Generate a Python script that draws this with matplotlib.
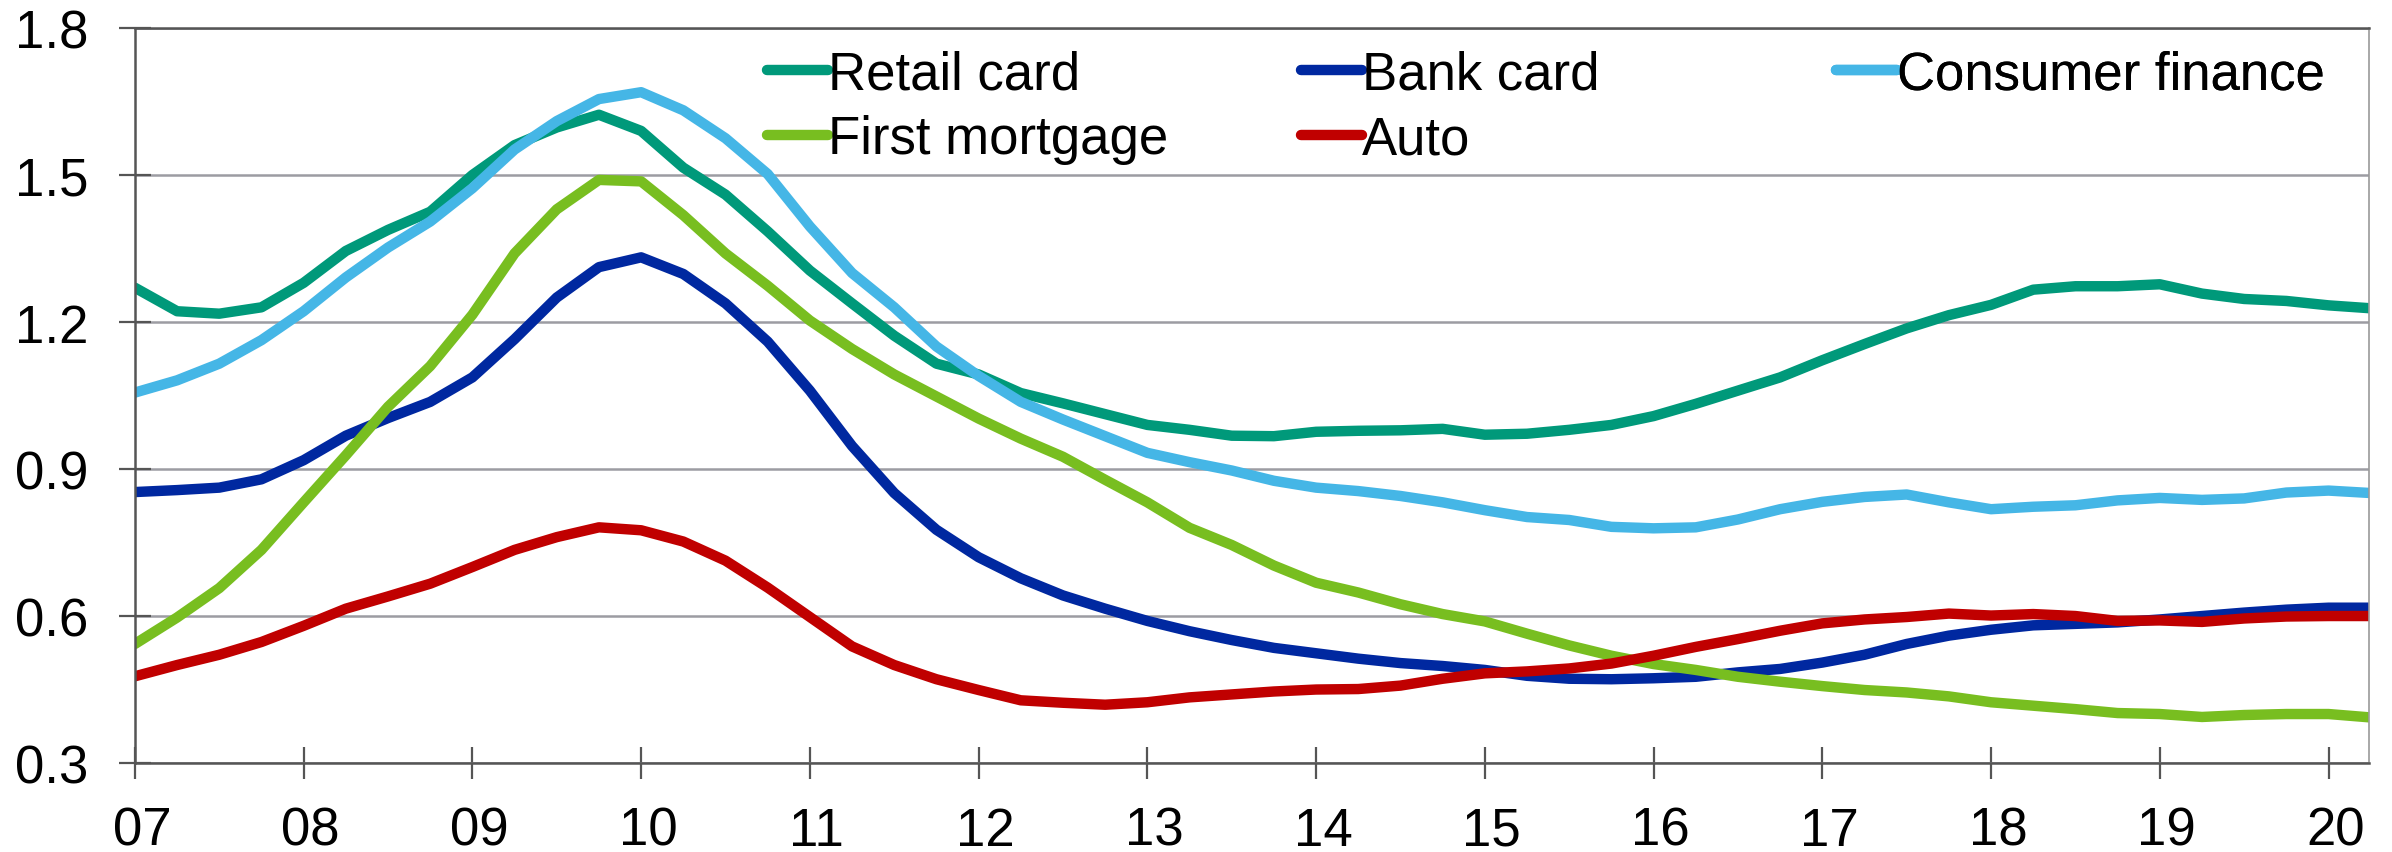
import numpy as np
import matplotlib
matplotlib.use('Agg')
import matplotlib.pyplot as plt
import matplotlib.transforms as mtransforms

plt.rcParams['font.family'] = ['Liberation Sans', 'DejaVu Sans']

# quarterly points, 2007Q1 .. 2020Q2 (x in years since 2000)
years = np.arange(54) * 0.25 + 7.0

retail_card = [1.270, 1.222, 1.217, 1.230, 1.280, 1.345, 1.388, 1.425, 1.500, 1.561,
               1.597, 1.623, 1.590, 1.515, 1.460, 1.385, 1.305, 1.238, 1.172, 1.115,
               1.093, 1.055, 1.034, 1.012, 0.990, 0.980, 0.968, 0.967, 0.976, 0.978,
               0.979, 0.982, 0.970, 0.972, 0.980, 0.990, 1.008, 1.033, 1.060, 1.087,
               1.122, 1.155, 1.187, 1.214, 1.235, 1.266, 1.273, 1.273, 1.277, 1.258,
               1.247, 1.243, 1.234, 1.228]
bank_card = [0.853, 0.857, 0.862, 0.879, 0.918, 0.968, 1.004, 1.037, 1.087, 1.165,
             1.250, 1.312, 1.332, 1.298, 1.238, 1.160, 1.060, 0.947, 0.851, 0.776,
             0.720, 0.677, 0.642, 0.615, 0.590, 0.569, 0.551, 0.535, 0.524, 0.513,
             0.504, 0.498, 0.490, 0.478, 0.472, 0.471, 0.473, 0.476, 0.485, 0.492,
             0.505, 0.521, 0.543, 0.560, 0.572, 0.581, 0.584, 0.587, 0.593, 0.600,
             0.607, 0.613, 0.617, 0.617]
consumer_finance = [1.056, 1.081, 1.115, 1.163, 1.222, 1.291, 1.352, 1.405, 1.473, 1.552,
                    1.610, 1.655, 1.669, 1.632, 1.575, 1.502, 1.395, 1.300, 1.230, 1.150,
                    1.090, 1.037, 1.001, 0.967, 0.933, 0.914, 0.897, 0.876, 0.862, 0.855,
                    0.845, 0.832, 0.816, 0.802, 0.796, 0.782, 0.779, 0.781, 0.797, 0.818,
                    0.833, 0.843, 0.848, 0.832, 0.818, 0.823, 0.826, 0.836, 0.841, 0.837,
                    0.840, 0.852, 0.856, 0.851]
first_mortgage = [0.543, 0.597, 0.657, 0.735, 0.832, 0.928, 1.027, 1.110, 1.215, 1.340,
                  1.430, 1.490, 1.487, 1.418, 1.340, 1.274, 1.203, 1.145, 1.093, 1.048,
                  1.003, 0.962, 0.925, 0.878, 0.832, 0.780, 0.745, 0.703, 0.668, 0.648,
                  0.624, 0.604, 0.589, 0.564, 0.540, 0.519, 0.502, 0.490, 0.476, 0.466,
                  0.457, 0.449, 0.444, 0.436, 0.424, 0.417, 0.410, 0.402, 0.400, 0.394,
                  0.398, 0.400, 0.400, 0.393]
auto = [0.477, 0.500, 0.521, 0.547, 0.580, 0.615, 0.640, 0.666, 0.700, 0.735,
        0.761, 0.781, 0.775, 0.752, 0.713, 0.658, 0.598, 0.538, 0.500, 0.471,
        0.449, 0.428, 0.423, 0.419, 0.424, 0.434, 0.440, 0.446, 0.450, 0.451,
        0.458, 0.472, 0.483, 0.487, 0.493, 0.503, 0.519, 0.537, 0.553, 0.570,
        0.585, 0.593, 0.598, 0.605, 0.601, 0.604, 0.600, 0.590, 0.591, 0.588,
        0.595, 0.599, 0.600, 0.600]

series = [('Retail card', retail_card, '#00997A'),
          ('Bank card', bank_card, '#0028A0'),
          ('Consumer finance', consumer_finance, '#45B6E6'),
          ('First mortgage', first_mortgage, '#78BE20'),
          ('Auto', auto, '#C00000')]

x_ticks = list(range(7, 21))
x_labels = ['%02d' % t for t in x_ticks]
y_ticks = [0.3, 0.6, 0.9, 1.2, 1.5, 1.8]
y_labels = ['0.3', '0.6', '0.9', '1.2', '1.5', '1.8']

fig = plt.figure(figsize=(23.92, 8.53), dpi=100)
ax = fig.add_axes([0.0564, 0.1043, 0.934, 0.8617])

lines = {}
for name, vals, col in series:
    ln, = ax.plot(years, vals, color=col, lw=7.5, solid_capstyle='round',
                  solid_joinstyle='round', label=name)
    lines[name] = ln

ax.set_xlim(7, 20.24)
ax.set_ylim(0.3, 1.8)
ax.set_xticks(x_ticks)
ax.set_xticklabels(x_labels)
ax.set_yticks(y_ticks)
ax.set_yticklabels(y_labels)

ax.grid(axis='y', color='#9C9CA2', lw=1.8)
ax.set_axisbelow(True)
ax.tick_params(axis='x', direction='inout', length=22.5, width=1.6, color='#555555',
               labelsize=38, pad=19.5)
ax.tick_params(axis='y', direction='inout', length=22.5, width=1.6, color='#555555',
               labelsize=38, pad=21.9)
for side in ['left', 'bottom', 'top']:
    ax.spines[side].set_color('#555555')
    ax.spines[side].set_linewidth(1.8)
ax.spines['right'].set_color('#9A9A9A')
ax.spines['right'].set_linewidth(1.2)

# year labels sit a little to the right of their ticks
shift = mtransforms.ScaledTranslation(5 / 72, 0, fig.dpi_scale_trans)
for lab in ax.get_xticklabels():
    lab.set_transform(lab.get_transform() + shift)

# legend laid out as three fixed-width columns
columns = [(0.3207, ['Retail card', 'First mortgage']),
           (0.5439, ['Bank card', 'Auto']),
           (0.7676, ['Consumer finance'])]
for xpos, names in columns:
    leg = ax.legend([lines[n] for n in names], names, loc='upper left',
                    bbox_to_anchor=(xpos, 0.941), bbox_transform=fig.transFigure,
                    frameon=False, fontsize=38, borderpad=0, borderaxespad=0,
                    handlelength=1.15, handletextpad=0.0, labelspacing=0.28)
    ax.add_artist(leg)

fig.savefig('out.png', dpi=100)
